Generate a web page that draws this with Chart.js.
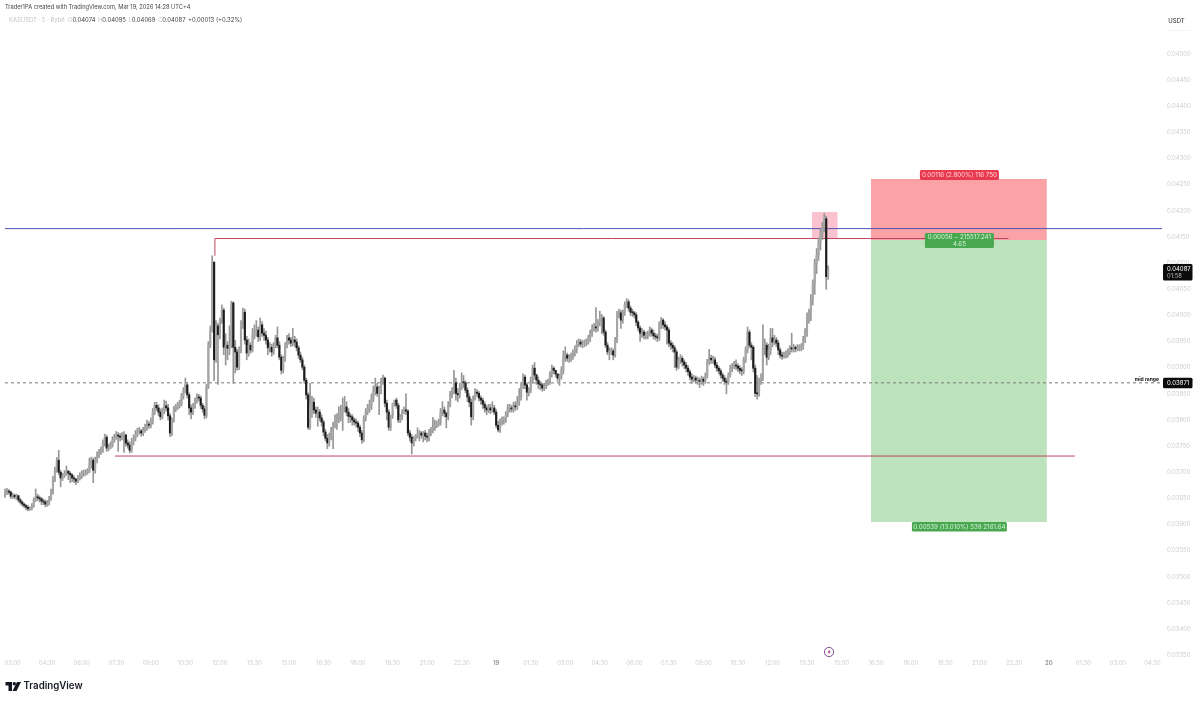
<!DOCTYPE html>
<html>
<head>
<meta charset="utf-8">
<script src="https://cdn.jsdelivr.net/npm/chart.js@4/dist/chart.umd.min.js"></script>
<style>
  html, body { margin: 0; padding: 0; background: #fff; }
  canvas { display: block; }
</style>
</head>
<body>
<canvas id="chart" width="1200" height="701"></canvas>
<script>
// KASUSDT 5m candles, in 1e-5 USDT
const opens = [
  3656,3660,3664,3662,3654,3656,3653,3655,3647,3643,3639,3636,3633,3630,3631,3636,3647,3653,3651,3649,
  3645,3643,3639,3641,3649,3662,3685,3704,3723,3700,3689,3693,3697,3702,3698,3695,3689,3687,3683,3687,
  3693,3698,3698,3700,3702,3714,3723,3704,3723,3733,3739,3742,3756,3767,3746,3748,3752,3762,3767,3771,
  3769,3767,3769,3771,3756,3752,3742,3758,3765,3773,3779,3779,3775,3781,3785,3792,3790,3798,3815,3828,
  3823,3815,3806,3817,3827,3823,3808,3775,3800,3821,3825,3828,3832,3846,3857,3867,3848,3823,3815,3828,
  3838,3844,3842,3828,3821,3809,3863,3943,3972,4102,3915,3980,3963,3991,4010,3939,3943,3937,3943,4024,
  3939,3930,3901,3934,3982,4006,3953,3928,3943,3934,3962,3968,3972,3959,3982,3966,3962,3953,3938,3939,
  3930,3943,3957,3943,3920,3895,3918,3943,3957,3953,3947,3953,3949,3938,3924,3915,3901,3876,3848,3786,
  3828,3834,3819,3813,3815,3804,3796,3777,3765,3756,3769,3781,3790,3800,3804,3806,3815,3823,3825,3815,
  3807,3806,3800,3796,3794,3786,3775,3762,3804,3815,3823,3828,3842,3857,3863,3851,3861,3876,3880,3832,
  3815,3786,3809,3832,3838,3828,3800,3806,3815,3819,3817,3775,3767,3756,3765,3771,3773,3775,3771,3775,
  3769,3767,3777,3781,3786,3790,3792,3796,3815,3819,3813,3806,3828,3848,3857,3871,3851,3848,3861,3873,
  3871,3857,3844,3834,3806,3842,3853,3851,3842,3838,3830,3823,3819,3823,3819,3823,3815,3790,3781,3796,
  3800,3800,3811,3823,3823,3821,3827,3825,3834,3844,3867,3882,3867,3853,3857,3876,3899,3886,3876,3869,
  3867,3861,3865,3871,3873,3888,3899,3895,3888,3880,3884,3895,3920,3924,3918,3918,3922,3928,3934,3945,
  3949,3945,3947,3947,3949,3957,3966,3976,3978,3976,3987,3995,3995,3968,3943,3930,3930,3932,3924,3953,
  4001,4005,3991,4006,4020,4026,4014,4006,4005,4001,3987,3976,3966,3968,3962,3962,3964,3972,3966,3961,
  3959,3957,3982,3991,3982,3978,3972,3947,3943,3938,3930,3901,3915,3918,3911,3905,3899,3892,3882,3878,
  3880,3876,3876,3874,3878,3874,3884,3911,3918,3915,3915,3905,3899,3894,3886,3880,3874,3872,3886,3899,
  3901,3905,3903,3899,3895,3894,3915,3934,3968,3943,3939,3899,3851,3850,3873,3880,3938,3943,3920,3934,
  3957,3949,3953,3947,3934,3924,3922,3924,3924,3930,3938,3936,3939,3936,3938,3938,3941,3953,3968,3999,
  4006,4030,4060,4100,4115,4140,4155,4168,4185,4074
];
const highs = [
  3668,3669,3667,3664,3660,3658,3658,3656,3650,3645,3641,3638,3636,3634,3640,3651,3668,3658,3655,3652,
  3649,3647,3646,3654,3668,3692,3710,3728,3742,3704,3698,3703,3712,3704,3701,3697,3693,3688,3694,3699,
  3703,3704,3705,3707,3727,3729,3727,3729,3739,3744,3748,3762,3773,3771,3754,3758,3768,3773,3778,3776,
  3774,3776,3778,3773,3762,3758,3765,3771,3780,3784,3786,3782,3786,3792,3800,3797,3804,3822,3834,3834,
  3829,3821,3823,3838,3836,3830,3812,3804,3826,3830,3834,3838,3851,3862,3880,3872,3852,3829,3832,3842,
  3850,3849,3846,3832,3826,3868,3950,3980,4114,4102,3990,3985,3995,4020,4014,3965,3950,3980,4027,4026,
  3952,3935,3940,3990,4014,4012,3960,3955,3948,3975,3982,3990,3978,3995,3988,3975,3970,3958,3948,3945,
  3948,3962,3978,3950,3925,3922,3948,3962,3965,3958,3975,3960,3955,3942,3930,3920,3905,3880,3852,3870,
  3845,3842,3825,3825,3820,3810,3800,3782,3772,3775,3786,3796,3810,3812,3825,3828,3842,3845,3835,3822,
  3812,3810,3804,3802,3798,3790,3780,3808,3822,3830,3838,3850,3865,3880,3870,3865,3880,3886,3882,3838,
  3820,3792,3815,3838,3842,3832,3810,3820,3825,3850,3820,3780,3772,3768,3772,3785,3780,3778,3778,3780,
  3775,3782,3786,3805,3800,3798,3802,3822,3835,3825,3815,3835,3855,3862,3895,3880,3860,3870,3890,3885,
  3875,3862,3850,3840,3846,3860,3858,3855,3846,3842,3835,3828,3830,3830,3835,3828,3820,3798,3802,3806,
  3806,3816,3830,3830,3828,3834,3835,3845,3860,3872,3888,3886,3870,3862,3882,3905,3910,3888,3882,3874,
  3870,3870,3876,3878,3892,3905,3902,3894,3888,3888,3902,3932,3940,3928,3925,3928,3934,3942,3952,3955,
  3954,3952,3953,3955,3962,3972,3982,3985,4015,3992,4008,4002,3998,3972,3948,3938,3938,3936,3958,4008,
  4012,4010,4010,4026,4032,4030,4018,4012,4008,4005,3990,3980,3975,3972,3968,3970,3978,3976,3972,3966,
  3964,3988,3996,3994,3988,3982,3976,3952,3948,3942,3934,3920,3925,3922,3915,3910,3904,3896,3888,3885,
  3884,3882,3880,3884,3882,3890,3916,3935,3924,3922,3920,3910,3903,3898,3890,3885,3880,3890,3905,3908,
  3912,3915,3908,3904,3900,3920,3940,3978,3972,3948,3942,3905,3885,3880,3888,3982,3955,3948,3945,3975,
  3975,3962,3958,3952,3938,3930,3930,3932,3936,3942,3966,3945,3942,3944,3944,3946,3960,3975,4005,4012,
  4040,4068,4108,4128,4148,4165,4178,4195,4190,4095
];
const lows = [
  3652,3657,3658,3650,3650,3649,3648,3643,3639,3635,3632,3628,3626,3627,3628,3633,3644,3646,3643,3638,
  3638,3634,3635,3637,3646,3658,3682,3700,3695,3672,3684,3690,3694,3686,3680,3682,3680,3676,3680,3685,
  3688,3692,3694,3696,3699,3708,3680,3698,3718,3728,3734,3738,3750,3740,3741,3745,3748,3757,3763,3740,
  3760,3762,3738,3750,3746,3737,3738,3752,3760,3768,3773,3769,3770,3776,3780,3784,3785,3792,3810,3818,
  3808,3800,3802,3812,3817,3800,3768,3770,3796,3816,3820,3823,3827,3840,3852,3842,3810,3802,3810,3822,
  3832,3836,3822,3815,3802,3804,3860,3938,3968,3875,3910,3868,3955,3985,3925,3905,3915,3925,3938,3870,
  3890,3895,3896,3928,3975,3945,3915,3922,3928,3930,3955,3960,3950,3952,3960,3952,3945,3925,3930,3922,
  3925,3938,3938,3915,3888,3890,3912,3938,3945,3940,3942,3940,3932,3918,3910,3896,3870,3840,3782,3782,
  3805,3812,3805,3788,3798,3788,3770,3760,3745,3750,3762,3745,3785,3782,3795,3798,3780,3815,3808,3795,
  3795,3790,3790,3786,3778,3768,3755,3758,3798,3810,3815,3820,3835,3848,3845,3810,3850,3868,3825,3800,
  3780,3780,3803,3826,3822,3795,3795,3800,3812,3810,3770,3760,3735,3750,3760,3765,3760,3765,3758,3762,
  3758,3760,3770,3775,3780,3785,3788,3790,3808,3806,3785,3800,3825,3842,3850,3838,3835,3842,3858,3862,
  3852,3835,3825,3790,3800,3838,3845,3836,3830,3822,3815,3810,3814,3812,3815,3810,3785,3777,3776,3790,
  3792,3795,3806,3815,3815,3815,3818,3820,3828,3838,3860,3860,3838,3846,3852,3870,3878,3868,3860,3858,
  3855,3856,3860,3866,3868,3882,3888,3882,3874,3866,3878,3888,3912,3912,3910,3912,3916,3922,3928,3940,
  3940,3938,3940,3942,3945,3950,3960,3970,3968,3970,3980,3965,3962,3938,3925,3915,3925,3915,3920,3948,
  3995,3975,3985,4000,4015,4008,4000,3998,3995,3980,3970,3950,3958,3955,3955,3955,3960,3960,3955,3953,
  3950,3952,3975,3975,3972,3945,3940,3935,3930,3900,3895,3898,3908,3903,3898,3892,3885,3876,3870,3873,
  3870,3868,3862,3868,3866,3870,3880,3906,3908,3908,3900,3893,3888,3880,3874,3868,3850,3868,3882,3892,
  3898,3896,3892,3888,3885,3888,3910,3928,3938,3915,3892,3845,3840,3845,3868,3875,3925,3905,3915,3925,
  3940,3944,3940,3925,3918,3916,3918,3918,3920,3925,3930,3930,3930,3932,3932,3932,3935,3948,3960,3985,
  3990,4020,4040,4080,4105,4125,4145,4160,4050,4069
];
const closes = [
  3660,3664,3662,3654,3656,3653,3655,3647,3643,3639,3636,3633,3630,3631,3636,3647,3653,3651,3649,3645,
  3643,3639,3641,3649,3662,3685,3704,3723,3700,3689,3693,3697,3702,3698,3695,3689,3687,3683,3687,3693,
  3698,3698,3700,3702,3714,3723,3704,3723,3733,3739,3742,3756,3767,3746,3748,3752,3762,3767,3771,3769,
  3767,3769,3771,3756,3752,3742,3758,3765,3773,3779,3779,3775,3781,3785,3792,3790,3798,3815,3828,3823,
  3815,3806,3817,3827,3823,3808,3775,3800,3821,3825,3828,3832,3846,3857,3867,3848,3823,3815,3828,3838,
  3844,3842,3828,3821,3809,3863,3943,3972,4102,3915,3980,3963,3991,4010,3939,3943,3937,3943,4024,3939,
  3930,3901,3934,3982,4006,3953,3928,3943,3934,3962,3968,3972,3959,3982,3966,3962,3953,3938,3939,3930,
  3943,3957,3943,3920,3895,3918,3943,3957,3953,3947,3953,3949,3938,3924,3915,3901,3876,3848,3786,3828,
  3834,3819,3813,3815,3804,3796,3777,3765,3756,3769,3781,3790,3800,3804,3806,3815,3823,3825,3815,3807,
  3806,3800,3796,3794,3786,3775,3762,3804,3815,3823,3828,3842,3857,3863,3851,3861,3876,3880,3832,3815,
  3786,3809,3832,3838,3828,3800,3806,3815,3819,3817,3775,3767,3756,3765,3771,3773,3775,3771,3775,3769,
  3767,3777,3781,3786,3790,3792,3796,3815,3819,3813,3806,3828,3848,3857,3871,3851,3848,3861,3873,3871,
  3857,3844,3834,3806,3842,3853,3851,3842,3838,3830,3823,3819,3823,3819,3823,3815,3790,3781,3796,3800,
  3800,3811,3823,3823,3821,3827,3825,3834,3844,3867,3882,3867,3853,3857,3876,3899,3886,3876,3869,3867,
  3861,3865,3871,3873,3888,3899,3895,3888,3880,3884,3895,3920,3924,3918,3918,3922,3928,3934,3945,3949,
  3945,3947,3947,3949,3957,3966,3976,3978,3976,3987,3995,3995,3968,3943,3930,3930,3932,3924,3953,4001,
  4005,3991,4006,4020,4026,4014,4006,4005,4001,3987,3976,3966,3968,3962,3962,3964,3972,3966,3961,3959,
  3957,3982,3991,3982,3978,3972,3947,3943,3938,3930,3901,3915,3918,3911,3905,3899,3892,3882,3878,3880,
  3876,3876,3874,3878,3874,3884,3911,3918,3915,3915,3905,3899,3894,3886,3880,3874,3872,3886,3899,3901,
  3905,3903,3899,3895,3894,3915,3934,3968,3943,3939,3899,3851,3850,3873,3880,3938,3943,3920,3934,3957,
  3949,3953,3947,3934,3924,3922,3924,3924,3930,3938,3936,3939,3936,3938,3938,3941,3953,3968,3999,4006,
  4030,4060,4100,4115,4140,4155,4168,4185,4074,4087
];

const yTicks = [4500,4450,4400,4350,4300,4250,4200,4150,4100,4050,4000,3950,3900,3850,3800,3750,3700,3650,3600,3550,3500,3450,3400,3350];
const xTickBars = [4,22,40,58,76,94,112,130,148,166,184,202,220,238,256,274,292,310,328,346,364,382,400,418,436,454,472,490,508,526,544,562,580,598];
const xTickLabels = ['03:00','04:30','06:00','07:30','09:00','10:30','12:00','13:30','15:00','16:30','18:00','19:30','21:00','22:30','19','01:30','03:00','04:30','06:00','07:30','09:00','10:30','12:00','13:30','15:00','16:30','18:00','19:30','21:00','22:30','20','01:30','03:00','04:30'];

// drawn levels, same units, and the bars they run between
const blueLevel = 4166, midRange = 3871, rangeHigh = 4147, rangeLow = 3731, rangeHighStart = 4114;
const stopLevel = 4261, entryLevel = 4144, targetLevel = 3605;
const zoneTop = 4198, zoneBottom = 4146;
const zoneBars = [420.5, 434], boxBars = [451.3, 543], rangeHighBars = [109.4, 523], rangeLowBars = [57.3, 557.6];
const lastBar = 603;

const p = v => v / 1e5;

const candles = opens.map((o, i) => ({o: p(o), h: p(highs[i]), l: p(lows[i]), c: p(closes[i]), x: i}));
const line = (pts, color, extra) => Object.assign({
  type: 'line', data: pts.map(([x, y]) => ({x: x, y: p(y)})), borderColor: color, borderWidth: 1,
  pointRadius: 0, tension: 0, fill: false, order: 5
}, extra || {});
const area = (bars, top, bottom, color, order) => line([[bars[0], top], [bars[1], top]], 'rgba(0,0,0,0)', {
  borderWidth: 0, backgroundColor: color, fill: {value: p(bottom)}, order: order
});
const noPadding = axis => { axis.paddingLeft = axis.paddingRight = axis.paddingTop = axis.paddingBottom = 0; };

const overlay = {
  id: 'overlay',
  beforeDraw(chart) {
    chart.ctx.fillStyle = '#fff';
    chart.ctx.fillRect(0, 0, chart.width, chart.height);
  },
  afterDraw(chart) {
    const ctx = chart.ctx, xs = chart.scales.x, ys = chart.scales.y;
    const font = 'Inter, "Liberation Sans", sans-serif';
    const text = (s, x, y, size, color, align, weight) => {
      ctx.font = (weight || 400) + ' ' + size + 'px ' + font;
      ctx.fillStyle = color;
      ctx.textAlign = align || 'left';
      ctx.textBaseline = 'middle';
      ctx.fillText(s, x, y);
      return ctx.measureText(s).width;
    };
    const tag = (x, y, w, h, color) => {
      ctx.fillStyle = color;
      ctx.beginPath();
      ctx.roundRect(x, y, w, h, 1.5);
      ctx.fill();
    };

    // header
    text('Trader1PA created with TradingView.com, Mar 19, 2026 14:28 UTC+4', 5, 7.5, 5.7, '#444');
    let hx = 9;
    hx += text('KASUSDT · 5 · Bybit  ', hx, 20.5, 5.9, '#c4c4c4');
    [['O', '0.04074'], ['H', '0.04095'], ['L', '0.04069'], ['C', '0.04087']].forEach(([k, v]) => {
      hx += text(k, hx, 20.5, 5.9, '#c4c4c4');
      hx += text(v, hx, 20.5, 5.9, '#444') + 2.5;
    });
    text('+0.00013 (+0.32%)', hx, 20.5, 5.9, '#444');

    // currency box
    text('USDT', 1176.5, 21, 6, '#444', 'center', 500);
    ctx.fillStyle = '#f4f4f4';
    ctx.fillRect(1166, 30, 24, 1);

    // long position tags
    const boxMid = xs.getPixelForValue((boxBars[0] + boxBars[1]) / 2);
    const stopY = ys.getPixelForValue(p(stopLevel)), entryY = ys.getPixelForValue(p(entryLevel)), targetY = ys.getPixelForValue(p(targetLevel));
    tag(boxMid - 39, stopY - 9, 79, 10, '#e8394f');
    text('0.00116 (2.800%) 116 750', boxMid + 0.5, stopY - 3.7, 6.2, '#ffd9dc', 'center');
    tag(boxMid - 34, entryY - 7, 69, 15, '#48a84f');
    text('0.00056 − 215517.241', boxMid + 0.5, entryY - 2.5, 6.2, '#d9f2da', 'center');
    text('4.65', boxMid + 0.5, entryY + 4, 6.2, '#d9f2da', 'center');
    tag(boxMid - 47, targetY, 95, 9.5, '#48a84f');
    text('0.00539 (13.010%) 539 2161.64', boxMid + 0.5, targetY + 5, 6.2, '#d9f2da', 'center');

    // price labels on the axis
    const lastY = ys.getPixelForValue(p(closes[closes.length - 1]));
    tag(1163, lastY - 6, 29.5, 16.5, '#0b0b0b');
    text('0.04087', 1167, lastY - 0.5, 6, '#fff');
    text('01:58', 1167, lastY + 6, 5.8, '#bbb');
    const midY = ys.getPixelForValue(p(midRange));
    tag(1163, midY - 5, 29.5, 10.5, '#0b0b0b');
    text('0.03871', 1167, midY + 0.3, 6, '#fff');
    text('mid range', 1159, midY - 3.5, 5, '#111', 'right', 700);

    // lightning mark under the last candle
    const lx = 829, ly = 652;
    ctx.strokeStyle = '#6b3f86';
    ctx.lineWidth = 0.9;
    ctx.beginPath();
    ctx.arc(lx, ly, 4.6, 0, Math.PI * 2);
    ctx.stroke();
    ctx.fillStyle = '#a0307f';
    ctx.beginPath();
    ctx.moveTo(lx + 1, ly - 3); ctx.lineTo(lx - 1.6, ly + 0.5); ctx.lineTo(lx, ly + 0.5);
    ctx.lineTo(lx - 1, ly + 3); ctx.lineTo(lx + 1.7, ly - 0.7); ctx.lineTo(lx + 0.2, ly - 0.7);
    ctx.closePath();
    ctx.fill();

    // TradingView logo
    ctx.fillStyle = '#131722';
    ctx.beginPath();
    ctx.moveTo(5.5, 682); ctx.lineTo(12, 682); ctx.lineTo(12, 691); ctx.lineTo(8.5, 691); ctx.lineTo(8.5, 685.5); ctx.lineTo(5.5, 685.5);
    ctx.closePath();
    ctx.fill();
    ctx.beginPath();
    ctx.arc(14.3, 683.8, 1.7, 0, Math.PI * 2);
    ctx.fill();
    ctx.beginPath();
    ctx.moveTo(17, 682); ctx.lineTo(21, 682); ctx.lineTo(16.5, 691); ctx.lineTo(12.5, 691);
    ctx.closePath();
    ctx.fill();
    text('TradingView', 23.5, 686.5, 9.7, '#131722', 'left', 600);
  }
};

const isDayLabel = c => xTickLabels[c.index] !== undefined && xTickLabels[c.index].length < 3;

new Chart(document.getElementById('chart'), {
  data: {
    datasets: [
      area(boxBars, stopLevel, entryLevel, '#fba2a7', 10),
      area(boxBars, entryLevel, targetLevel, '#bce3bc', 10),
      area(zoneBars, zoneTop, zoneBottom, '#fbc3cf', 10),
      line([[0, blueLevel], [lastBar, blueLevel]], '#4f52b5'),
      line([[rangeHighBars[0], rangeHighStart], [rangeHighBars[0], rangeHigh], [rangeHighBars[1], rangeHigh]], '#bf4560'),
      line([[rangeLowBars[0], rangeLow], [rangeLowBars[1], rangeLow]], '#bf4560'),
      line([[0, midRange], [lastBar, midRange]], '#777', {borderDash: [3, 3]}),
      {
        type: 'bar',
        data: candles.map(d => ({x: d.x, y: [d.l, d.h]})),
        backgroundColor: '#969696',
        barThickness: 1,
        order: 2
      },
      {
        type: 'bar',
        data: candles.map(d => ({x: d.x, y: [d.o, d.c]})),
        backgroundColor: candles.map(d => d.c >= d.o ? '#a6a6a6' : '#1c1c1c'),
        barThickness: 1.5,
        minBarLength: 1,
        order: 1
      }
    ]
  },
  options: {
    responsive: false,
    animation: false,
    layout: {padding: 0},
    plugins: {legend: {display: false}, tooltip: {enabled: false}},
    datasets: {bar: {grouped: false}},
    scales: {
      x: {
        type: 'linear',
        offset: false,
        min: -2.6,
        max: lastBar,
        grid: {display: false, drawTicks: false},
        border: {display: false},
        afterBuildTicks: axis => { axis.ticks = xTickBars.map(v => ({value: v})); },
        afterFit: axis => { axis.height = 46; noPadding(axis); },
        ticks: {
          autoSkip: false,
          maxRotation: 0,
          padding: 5,
          callback: (v, i) => xTickLabels[i],
          color: c => isDayLabel(c) ? '#999' : '#cdcdcd',
          font: c => ({family: 'Inter, "Liberation Sans", sans-serif', size: 5.8, weight: isDayLabel(c) ? 700 : 400})
        }
      },
      y: {
        position: 'right',
        min: 0.0335042,
        max: 0.0460329,
        grid: {display: false, drawTicks: false},
        border: {display: false},
        afterBuildTicks: axis => { axis.ticks = yTicks.map(v => ({value: p(v)})); },
        afterFit: axis => { axis.width = 38; noPadding(axis); },
        ticks: {
          autoSkip: false,
          padding: 5,
          callback: v => v.toFixed(5),
          color: '#cdcdcd',
          font: {family: 'Inter, "Liberation Sans", sans-serif', size: 5.9}
        }
      }
    }
  },
  plugins: [overlay]
});
</script>
</body>
</html>
